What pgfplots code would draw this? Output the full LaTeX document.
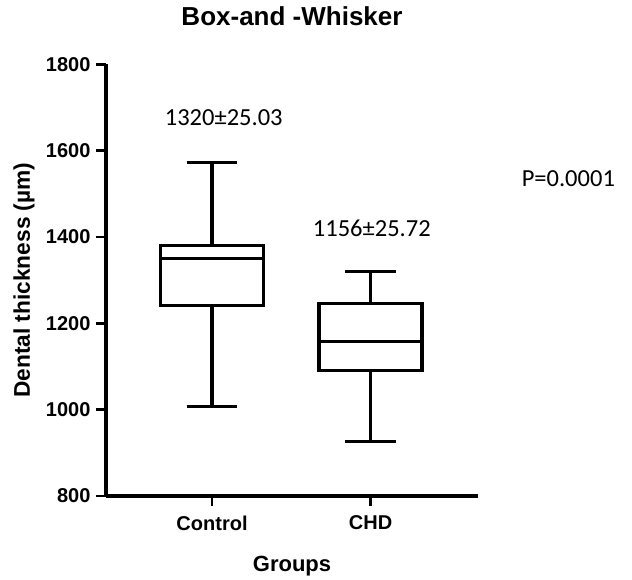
\documentclass[border=0pt]{standalone}
\usepackage{fontspec}
\setmainfont{Liberation Sans}
\newfontfamily\calibri{Carlito}
\usepackage{pgfplots}
\pgfplotsset{compat=1.18}
\pgfplotsset{bw/.style={black, line width=3.2pt, mark=none, line join=miter, line cap=butt, forget plot}}
\pgfplotsset{tick style={black, line width=2.8pt}, major tick style={black, line width=2.8pt}}
\begin{document}
\begin{tikzpicture}[line width=2.8pt]
\path[use as bounding box] (0,0) rectangle (632pt,580pt);
\begin{axis}[
 at={(106pt,84pt)}, anchor=south west,
 scale only axis, width=372pt, height=431.7pt,
 xmin=0.331, xmax=2.678, ymin=800, ymax=1800,
 axis lines=left, axis line style={-, line width=3.2pt},
 xtick={1,2}, xticklabels={Control,CHD},
 ytick={800,1000,1200,1400,1600,1800},
 tick align=outside, major tick length=10pt,
 tick style={black, line width=2.8pt},
 major tick style={black, line width=2.8pt},
 tick label style={font=\bfseries\fontsize{20}{24}\selectfont},
 xticklabel style={yshift=-6pt},
 yticklabel style={xshift=-2pt},
 /pgf/number format/assume math mode=true,
 /pgf/number format/1000 sep={},
 clip=false,
 title={Box-and -Whisker},
 title style={at={(axis description cs:0.5,1.0755)}, anchor=base, font=\bfseries\fontsize{26}{30}\selectfont},
 ylabel={Dental thickness (µm)},
 ylabel style={at={(axis description cs:-0.2204,0.5)}, anchor=center, font=\bfseries\fontsize{22.7}{26}\selectfont},
 xlabel={Groups},
 xlabel style={at={(axis description cs:0.5,-0.176)}, anchor=base, font=\bfseries\fontsize{22}{26}\selectfont},
]
% Control: lower whisker 1007, Q1 1242, median 1350, Q3 1381, upper whisker 1572
\addplot[bw] coordinates {(0.675,1242) (1.325,1242) (1.325,1381) (0.675,1381)} -- cycle;
\addplot[bw] coordinates {(0.675,1350) (1.325,1350)};
\addplot[bw] coordinates {(1,1381) (1,1572)};
\addplot[bw] coordinates {(0.84,1572) (1.16,1572)};
\addplot[bw] coordinates {(1,1242) (1,1007)};
\addplot[bw] coordinates {(0.84,1007) (1.16,1007)};
% CHD: lower whisker 926, Q1 1090, median 1157, Q3 1245, upper whisker 1320
\addplot[bw] coordinates {(1.675,1090) (2.325,1090) (2.325,1245) (1.675,1245)} -- cycle;
\addplot[bw] coordinates {(1.675,1157) (2.325,1157)};
\addplot[bw] coordinates {(2,1245) (2,1320)};
\addplot[bw] coordinates {(1.84,1320) (2.16,1320)};
\addplot[bw] coordinates {(2,1090) (2,926)};
\addplot[bw] coordinates {(1.84,926) (2.16,926)};
\node[anchor=base, font=\calibri\fontsize{24.5}{28}\selectfont] at (axis cs:1.074,1659) {1320±25.03};
\node[anchor=base, font=\calibri\fontsize{24.5}{28}\selectfont] at (axis cs:2.008,1400.6) {1156±25.72};
\node[anchor=base, font=\calibri\fontsize{24.5}{28}\selectfont] at (axis cs:3.248,1516.5) {P=0.0001};
\end{axis}
\end{tikzpicture}
\end{document}
